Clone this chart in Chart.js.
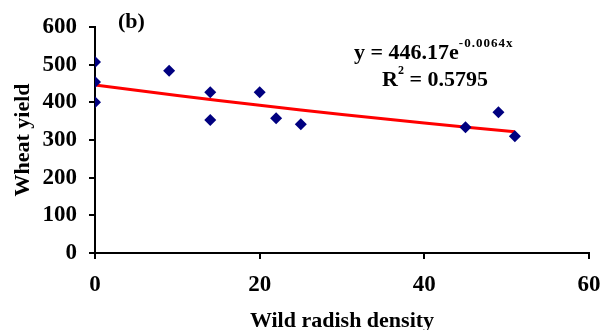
<!DOCTYPE html>
<html lang="en">
<head>
  <meta charset="UTF-8">
  <title>Wheat yield vs wild radish density</title>
  <script src="https://cdn.jsdelivr.net/npm/chart.js"></script>
  <style>
    html, body { margin: 0; padding: 0; background: #fff; }
    #wrap { width: 603px; height: 330px; position: relative; }
  </style>
</head>
<body>
  <div id="wrap"><canvas id="yieldChart"></canvas></div>

  <script>
    // observed points
    const densityX = [0, 0, 0, 9, 14, 14, 20, 22, 25, 45, 49, 51];
    const yieldY = [507, 454, 400, 484, 427, 353, 427, 358, 342, 334, 374, 310];

    // fitted exponential trend, sampled along the line
    const trendX = [0, 10, 20, 30, 40, 51];
    const trendY = [446, 418, 392, 368, 345, 322];

    const xTicks = [0, 20, 40, 60];
    const yTicks = [0, 100, 200, 300, 400, 500, 600];

    const serif = '"Liberation Serif", "Times New Roman", serif';

    // equation label and panel tag
    const notes = {
      id: 'notes',
      afterDraw(chart) {
        const ctx = chart.ctx;
        ctx.save();
        ctx.fillStyle = '#000';
        ctx.textBaseline = 'middle';
        ctx.font = 'bold 22px ' + serif;
        ctx.fillText('(b)', 118, 22);

        ctx.font = 'bold 22px ' + serif;
        ctx.fillText('y = 446.17e', 354, 53);
        let w = ctx.measureText('y = 446.17e').width;
        ctx.font = 'bold 13px ' + serif;
        ctx.letterSpacing = '1px';
        ctx.fillText('-0.0064x', 354 + w, 44);
        ctx.letterSpacing = '0px';

        ctx.font = 'bold 22px ' + serif;
        ctx.fillText('R', 382, 80);
        w = ctx.measureText('R').width;
        ctx.font = 'bold 12px ' + serif;
        ctx.fillText('2', 382 + w, 71);
        const w2 = ctx.measureText('2').width;
        ctx.font = 'bold 22px ' + serif;
        ctx.fillText(' = 0.5795', 382 + w + w2, 80);
        ctx.restore();
      }
    };

    new Chart(document.getElementById('yieldChart'), {
      type: 'scatter',
      data: {
        datasets: [
          {
            label: 'Observed',
            data: densityX.map((x, i) => ({ x: x, y: yieldY[i] })),
            pointStyle: 'rectRot',
            pointRadius: 6,
            backgroundColor: '#000080',
            borderColor: '#000080',
            borderWidth: 0
          },
          {
            label: 'Trend',
            type: 'line',
            data: trendX.map((x, i) => ({ x: x, y: trendY[i] })),
            borderColor: '#ff0000',
            borderWidth: 3,
            pointRadius: 0,
            fill: false,
            tension: 0.4
          }
        ]
      },
      options: {
        responsive: true,
        maintainAspectRatio: false,
        animation: false,
        layout: { padding: { left: 10, top: 27, right: 14, bottom: 0 } },
        plugins: {
          legend: { display: false },
          tooltip: { enabled: false }
        },
        scales: {
          x: {
            type: 'linear',
            min: 0,
            max: 60,
            afterBuildTicks: s => { s.ticks = xTicks.map(v => ({ value: v })); },
            afterFit: s => { s.height = 77; s.paddingLeft = 0; s.paddingRight = 0; },
            border: { color: '#000', width: 2 },
            grid: { drawOnChartArea: false, drawTicks: true, tickLength: 6, color: '#000', lineWidth: 2 },
            ticks: { color: '#000', padding: 12, font: { family: serif, size: 23, weight: 'bold' } },
            title: {
              display: true,
              text: 'Wild radish density',
              color: '#000',
              padding: { top: 20, bottom: -5 },
              font: { family: serif, size: 22, weight: 'bold' }
            }
          },
          y: {
            type: 'linear',
            min: 0,
            max: 600,
            afterBuildTicks: s => { s.ticks = yTicks.map(v => ({ value: v })); },
            afterFit: s => { s.width = 85; },
            border: { color: '#000', width: 2 },
            grid: { drawOnChartArea: false, drawTicks: true, tickLength: 6, color: '#000', lineWidth: 2 },
            ticks: { color: '#000', padding: 12, font: { family: serif, size: 23, weight: 'bold' } },
            title: {
              display: true,
              text: 'Wheat yield',
              color: '#000',
              padding: { top: 0, bottom: 0 },
              font: { family: serif, size: 22, weight: 'bold' }
            }
          }
        }
      },
      plugins: [notes]
    });
  </script>
</body>
</html>
